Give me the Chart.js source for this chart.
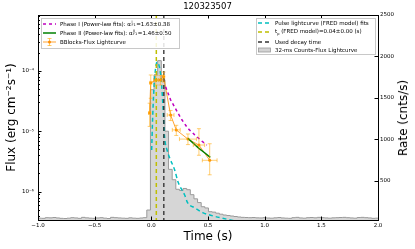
<!DOCTYPE html>
<html>
<head>
<meta charset="utf-8">
<script src="https://cdn.jsdelivr.net/npm/chart.js@4.4.1/dist/chart.umd.min.js"></script>
<style>
  body { margin: 0; background: #fff; font-family: "DejaVu Sans", sans-serif; }
  #wrap { position: relative; width: 415px; height: 249px; }
  .legend { position: absolute; background: rgba(255,255,255,0.85); border: 1px solid #c8c8c8; box-sizing: border-box; font-size: 5.5px; color: #000; }
  .row { position: absolute; left: 1px; height: 9px; display: flex; align-items: center; white-space: nowrap; }
  .row svg { margin-right: 4px; }
  .stack { display: inline-flex; flex-direction: column; font-size: 3.5px; line-height: 3.5px; vertical-align: middle; margin: 0 0.5px; }
  #rate-title { position: absolute; left: 403px; top: 117.5px; transform: translate(-50%, -50%) rotate(-90deg); font-size: 12px; white-space: nowrap; }
</style>
</head>
<body>
<div id="wrap">
  <canvas id="flux-chart" width="415" height="249"></canvas>

  <div class="legend" style="left:41px; top:18px; width:139px; height:31px;">
    <div class="row" style="top:0.5px;">
      <svg width="13" height="6"><line x1="0" y1="3" x2="13" y2="3" stroke="#BF00BF" stroke-width="1.5" stroke-dasharray="3,3"/></svg>
      <span>Phase I (Power-law fits): α<span class="stack"><span>I</span><span>F1</span></span>=1.63±0.38</span>
    </div>
    <div class="row" style="top:9.8px;">
      <svg width="13" height="6"><line x1="0" y1="3" x2="13" y2="3" stroke="#008000" stroke-width="1.5"/></svg>
      <span>Phase II (Power-law fits): α<span class="stack"><span>II</span><span>F1</span></span>=1.46±0.50</span>
    </div>
    <div class="row" style="top:18.8px;">
      <svg width="13" height="8"><line x1="0" y1="4" x2="13" y2="4" stroke="rgba(255,140,0,0.8)" stroke-width="1"/><line x1="6.5" y1="0.5" x2="6.5" y2="7.5" stroke="rgba(255,165,0,0.6)" stroke-width="1"/><line x1="4.5" y1="0.5" x2="8.5" y2="0.5" stroke="rgba(255,165,0,0.6)"/><line x1="4.5" y1="7.5" x2="8.5" y2="7.5" stroke="rgba(255,165,0,0.6)"/><circle cx="6.5" cy="4" r="1.5" fill="#ff8c00"/></svg>
      <span>BBlocks-Flux Lightcurve</span>
    </div>
  </div>

  <div class="legend" style="left:256px; top:18px; width:120px; height:37px;">
    <div class="row" style="top:-0.2px;">
      <svg width="13" height="6"><line x1="0" y1="3" x2="13" y2="3" stroke="#00BFBF" stroke-width="1.5" stroke-dasharray="4,3"/></svg>
      <span>Pulse lightcurve (FRED model) fits</span>
    </div>
    <div class="row" style="top:8.8px;">
      <svg width="13" height="6"><line x1="0" y1="3" x2="13" y2="3" stroke="#BFBF00" stroke-width="1.5" stroke-dasharray="4,3"/></svg>
      <span>t<sub style="font-size:3.5px;">p</sub> (FRED model)=0.04±0.00 (s)</span>
    </div>
    <div class="row" style="top:18.2px;">
      <svg width="13" height="6"><line x1="0" y1="3" x2="13" y2="3" stroke="#333" stroke-width="1.5" stroke-dasharray="4,3"/></svg>
      <span>Used decay time</span>
    </div>
    <div class="row" style="top:26.5px;">
      <svg width="13" height="6"><rect x="0.5" y="1" width="12" height="4" fill="#d3d3d3" stroke="#999" stroke-width="0.8"/></svg>
      <span>32-ms Counts-Flux Lightcurve</span>
    </div>
  </div>

  <div id="rate-title">Rate (cnts/s)</div>
</div>

<script>
const font_family = "DejaVu Sans";

// 32-ms histogram (right axis, counts/s), bins start at -1.0 s
const bin_start = -1.0;
const bin_width = 0.032;
const bin_counts = [
  52, 50, 58, 56, 60, 55, 50, 48, 52, 58, 55, 50, 62, 56, 52, 50, 55, 58, 52, 48,
  62, 58, 55, 52, 50, 56, 52, 50, 54, 58,
  150,
  1600, 1780, 1950, 1720, 1100,
  640, 515, 400, 385, 410, 395, 335, 285, 240, 190, 175, 130, 125, 112, 100, 90, 84, 78, 72, 66,
  62, 60, 58, 60, 56, 55, 58, 54, 52, 56, 60, 55, 52, 50, 58, 62, 55, 52, 58, 60,
  56, 62, 58, 55, 52, 56, 58, 60, 62, 58, 55, 52, 60, 62, 58, 55, 50, 52,
];

// FRED pulse fit (flux)
const fred_time = [0.003, 0.011, 0.020, 0.034, 0.051, 0.073, 0.091, 0.104, 0.117, 0.14, 0.162, 0.206, 0.235, 0.294, 0.321, 0.383, 0.453, 0.542, 0.63, 0.718, 0.78];
const fred_flux = [4.9e-6, 1.53e-5, 3.97e-5, 9.5e-5, 1.39e-4, 1.11e-4, 5.8e-5, 2.24e-5, 8.0e-6, 4.8e-6, 3.6e-6, 2.29e-6, 1.46e-6, 8.8e-7, 6.5e-7, 5.4e-7, 4.5e-7, 3.98e-7, 3.63e-7, 3.34e-7, 3.16e-7];

// Phase I / Phase II power-law fits
const pl1_time = [0.126, 0.17, 0.232, 0.268, 0.321, 0.383, 0.436, 0.489];
const pl1_flux = [5.4e-5, 3.3e-5, 2.04e-5, 1.56e-5, 1.12e-5, 8.7e-6, 7.1e-6, 5.9e-6];
const pl2_time = [0.323, 0.37, 0.42, 0.47, 0.52];
const pl2_flux = [7.6e-6, 6.3e-6, 5.2e-6, 4.4e-6, 3.7e-6];

// Bayesian blocks flux lightcurve
const bb_time = [-0.015, -0.005, 0.04, 0.08, 0.108, 0.17, 0.22, 0.323, 0.42, 0.515];
const bb_flux = [2.0e-5, 6.3e-5, 7.0e-5, 7.0e-5, 8.0e-5, 1.85e-5, 1.05e-5, 7.4e-6, 5.9e-6, 3.3e-6];
const bb_time_err = [0.01, 0.01, 0.02, 0.015, 0.01, 0.03, 0.035, 0.075, 0.05, 0.065];
const bb_flux_lo = [1.2e-5, 3.5e-5, 5.8e-5, 5.8e-5, 6.5e-5, 1.5e-5, 8.5e-6, 6.0e-6, 4.0e-6, 1.9e-6];
const bb_flux_hi = [2.9e-5, 8.5e-5, 8.3e-5, 8.3e-5, 9.5e-5, 2.2e-5, 1.25e-5, 9.0e-6, 1.1e-5, 6.2e-6];

const t_peak = 0.044;
const t_decay = 0.11;

// axes
const time_ticks = [-1.0, -0.5, 0.0, 0.5, 1.0, 1.5, 2.0];
const flux_ticks = [1e-6, 1e-5, 1e-4];
const flux_tick_labels = ["10⁻⁶", "10⁻⁵", "10⁻⁴"];
const rate_ticks = [500, 1000, 1500, 2000, 2500];

const pairs = (xs, ys) => xs.map((x, i) => ({ x: x, y: ys[i] }));

const hist_points = bin_counts.map((c, i) => ({ x: bin_start + i * bin_width, y: c }));
hist_points.push({ x: bin_start + bin_counts.length * bin_width, y: bin_counts[bin_counts.length - 1] });

const frame_plugin = {
  id: "frame",
  afterDatasetsDraw(chart) {
    const ctx = chart.ctx;
    const area = chart.chartArea;
    const sx = chart.scales.x;
    const sy = chart.scales.y;

    ctx.save();
    ctx.beginPath();
    ctx.rect(area.left, area.top, area.right - area.left, area.bottom - area.top);
    ctx.clip();

    // vertical reference lines
    [[t_peak, "#BFBF00"], [t_decay, "rgba(40,40,40,0.85)"]].forEach(([t, col]) => {
      const px = sx.getPixelForValue(t);
      ctx.strokeStyle = col;
      ctx.lineWidth = 1.5;
      ctx.setLineDash([4, 3]);
      ctx.beginPath();
      ctx.moveTo(px, area.top);
      ctx.lineTo(px, area.bottom);
      ctx.stroke();
    });
    ctx.setLineDash([]);

    // error bars
    ctx.strokeStyle = "rgba(255,165,0,0.55)";
    ctx.lineWidth = 1;
    for (let i = 0; i < bb_time.length; i++) {
      const px = sx.getPixelForValue(bb_time[i]);
      const py = sy.getPixelForValue(bb_flux[i]);
      const x0 = sx.getPixelForValue(bb_time[i] - bb_time_err[i]);
      const x1 = sx.getPixelForValue(bb_time[i] + bb_time_err[i]);
      const y0 = sy.getPixelForValue(bb_flux_lo[i]);
      const y1 = sy.getPixelForValue(bb_flux_hi[i]);
      ctx.beginPath();
      ctx.moveTo(x0, py); ctx.lineTo(x1, py);
      ctx.moveTo(px, y0); ctx.lineTo(px, y1);
      ctx.moveTo(x0, py - 2); ctx.lineTo(x0, py + 2);
      ctx.moveTo(x1, py - 2); ctx.lineTo(x1, py + 2);
      ctx.moveTo(px - 2, y0); ctx.lineTo(px + 2, y0);
      ctx.moveTo(px - 2, y1); ctx.lineTo(px + 2, y1);
      ctx.stroke();
    }
    ctx.restore();
  },
  afterDraw(chart) {
    const ctx = chart.ctx;
    const area = chart.chartArea;
    const sx = chart.scales.x;
    const sy = chart.scales.y;
    const sr = chart.scales.y1;

    ctx.save();
    ctx.strokeStyle = "#000";
    ctx.lineWidth = 1;
    ctx.beginPath();
    // inward ticks, bottom and top
    time_ticks.forEach((t) => {
      const px = Math.round(sx.getPixelForValue(t)) + 0.5;
      ctx.moveTo(px, area.bottom); ctx.lineTo(px, area.bottom - 3.5);
      ctx.moveTo(px, area.top); ctx.lineTo(px, area.top + 3.5);
    });
    // left log ticks, major and minor
    for (let e = -7; e <= -3; e++) {
      for (let m = 1; m < 10; m++) {
        const v = m * Math.pow(10, e);
        if (v < sy.min || v > sy.max) continue;
        const py = Math.round(sy.getPixelForValue(v)) + 0.5;
        ctx.moveTo(area.left, py); ctx.lineTo(area.left + (m === 1 ? 3.5 : 2), py);
      }
    }
    // right ticks
    rate_ticks.forEach((r) => {
      const py = Math.round(sr.getPixelForValue(r)) + 0.5;
      ctx.moveTo(area.right, py); ctx.lineTo(area.right - 3.5, py);
    });
    ctx.stroke();
    ctx.strokeRect(Math.round(area.left) + 0.5, Math.round(area.top) + 0.5, Math.round(area.right - area.left), Math.round(area.bottom - area.top));
    ctx.restore();
  },
};

const tick_font = { family: font_family, size: 5.5 };

new Chart(document.getElementById("flux-chart"), {
  type: "line",
  data: {
    datasets: [
      {
        label: "Phase I (Power-law fits)",
        data: pairs(pl1_time, pl1_flux),
        yAxisID: "y",
        borderColor: "#BF00BF",
        borderWidth: 1.5,
        borderDash: [3, 3],
        pointRadius: 0,
        fill: false,
        order: 2,
      },
      {
        label: "Phase II (Power-law fits)",
        data: pairs(pl2_time, pl2_flux),
        yAxisID: "y",
        borderColor: "#008000",
        borderWidth: 1.5,
        pointRadius: 0,
        fill: false,
        order: 1,
      },
      {
        label: "BBlocks-Flux Lightcurve",
        data: pairs(bb_time, bb_flux),
        yAxisID: "y",
        borderColor: "rgba(255,140,0,0.8)",
        borderWidth: 1,
        pointRadius: 1.5,
        pointBackgroundColor: "#ff8c00",
        pointBorderWidth: 0,
        fill: false,
        order: 3,
      },
      {
        label: "Pulse lightcurve (FRED model) fits",
        data: pairs(fred_time, fred_flux),
        yAxisID: "y",
        borderColor: "#00BFBF",
        borderWidth: 1.5,
        borderDash: [4, 3],
        cubicInterpolationMode: "monotone",
        pointRadius: 0,
        fill: false,
        order: 4,
      },
      {
        label: "32-ms Counts-Flux Lightcurve",
        data: hist_points,
        yAxisID: "y1",
        stepped: true,
        borderColor: "#9a9a9a",
        borderWidth: 1,
        backgroundColor: "rgba(200,200,200,0.75)",
        fill: "start",
        pointRadius: 0,
        order: 10,
      },
    ],
  },
  options: {
    responsive: false,
    animation: false,
    layout: { padding: 0 },
    plugins: {
      legend: { display: false },
      tooltip: { enabled: false },
      title: {
        display: true,
        text: "120323507",
        color: "#000",
        font: { family: font_family, size: 8.5, weight: "normal" },
        padding: { top: 2, bottom: 2.8 },
      },
    },
    scales: {
      x: {
        type: "linear",
        position: "bottom",
        min: -1,
        max: 2,
        afterBuildTicks: (axis) => { axis.ticks = time_ticks.map((v) => ({ value: v })); },
        afterFit: (axis) => { axis.height = 29; },
        grid: { display: false, drawTicks: false },
        border: { display: false },
        ticks: {
          font: tick_font,
          color: "#000",
          padding: 2,
          maxRotation: 0,
          callback: (v) => v.toFixed(1).replace("-", "−"),
        },
        title: {
          display: true,
          text: "Time (s)",
          color: "#000",
          font: { family: font_family, size: 12 },
          padding: { top: 0, bottom: 5 },
        },
      },
      y: {
        type: "logarithmic",
        position: "left",
        min: 3.4e-7,
        max: 8.34e-4,
        afterBuildTicks: (axis) => { axis.ticks = flux_ticks.map((v) => ({ value: v })); },
        afterFit: (axis) => { axis.width = 38; },
        grid: { display: false, drawTicks: false },
        border: { display: false },
        ticks: {
          font: tick_font,
          color: "#000",
          padding: 4,
          callback: (v, i) => flux_tick_labels[i],
        },
        title: {
          display: true,
          text: "Flux (erg cm⁻²s⁻¹)",
          color: "#000",
          font: { family: font_family, size: 12 },
          padding: { top: 5, bottom: 0 },
        },
      },
      y1: {
        type: "linear",
        position: "right",
        min: 30,
        max: 2500,
        afterBuildTicks: (axis) => { axis.ticks = rate_ticks.map((v) => ({ value: v })); },
        afterFit: (axis) => { axis.width = 37; },
        grid: { display: false, drawTicks: false },
        border: { display: false },
        ticks: {
          font: tick_font,
          color: "#000",
          padding: 2,
          callback: (v) => String(v),
        },
      },
    },
  },
  plugins: [frame_plugin],
});
</script>
</body>
</html>
